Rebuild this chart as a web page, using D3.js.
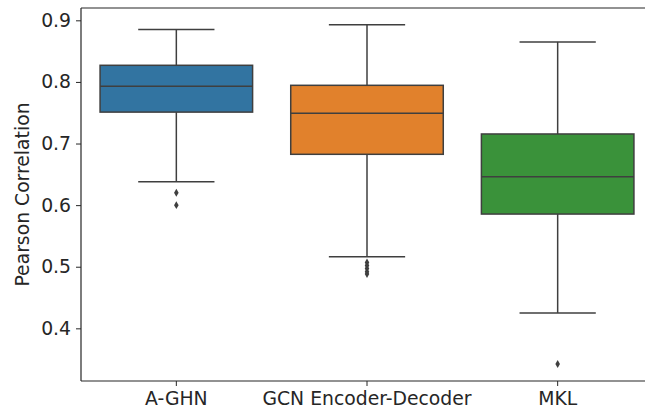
<!doctype html>
<html>
<head>
<script src="https://cdn.jsdelivr.net/npm/d3@7"></script>
<style>
  body { margin: 0; background: #fff; }
  text { font-family: "DejaVu Sans", sans-serif; fill: #262626; }
</style>
</head>
<body>
<svg id="chart" width="645" height="411"></svg>
<script>
// box stats
var categories = ["A-GHN", "GCN Encoder-Decoder", "MKL"];
var whiskerLow = [0.638, 0.516, 0.425];
var q1 = [0.751, 0.6825, 0.5855];
var median = [0.793, 0.749, 0.646];
var q3 = [0.827, 0.7945, 0.7155];
var whiskerHigh = [0.885, 0.893, 0.865];
var outliers = [[0.620, 0.600], [0.507, 0.502, 0.497, 0.492, 0.488], [0.342]];
var colors = ["#3274a1", "#e1812c", "#3a923a"];
var yTicks = [0.4, 0.5, 0.6, 0.7, 0.8, 0.9];

var svg = d3.select("#chart");
var plotLeft = 81, plotRight = 653, plotTop = 8, plotBottom = 381;
var edge = "#3f3f3f";
var fontSize = "18.8px";

var x = d3.scaleBand().domain(categories).range([plotLeft, plotRight]).padding(0);
var y = d3.scaleLinear().domain([0.3145, 0.92]).range([plotBottom, plotTop]);
var bw = x.bandwidth() * 0.8;

var boxes = categories.map(function(c, i) {
    return {name: c, lo: whiskerLow[i], q1: q1[i], med: median[i], q3: q3[i], hi: whiskerHigh[i],
            out: outliers[i], color: colors[i]};
});

// y axis
var yAxis = svg.append("g")
    .attr("transform", "translate(" + plotLeft + ",0)")
    .call(d3.axisLeft(y).tickValues(yTicks).tickFormat(d3.format(".1f")).tickSize(5).tickPadding(5));
yAxis.select(".domain").remove();
yAxis.selectAll("line").attr("stroke", "#262626").attr("stroke-width", 1);
yAxis.selectAll("text").style("font-size", fontSize).style("font-family", "DejaVu Sans").attr("fill", "#262626");

// x axis
var xAxis = svg.append("g")
    .attr("transform", "translate(0," + plotBottom + ")")
    .call(d3.axisBottom(x).tickSize(5).tickPadding(6));
xAxis.select(".domain").remove();
xAxis.selectAll("line").attr("stroke", "#262626").attr("stroke-width", 1);
xAxis.selectAll("text").style("font-size", fontSize).style("font-family", "DejaVu Sans").attr("fill", "#262626");

// spines
svg.append("line").attr("x1", plotLeft).attr("x2", plotLeft).attr("y1", plotTop).attr("y2", plotBottom)
    .attr("stroke", "#262626").attr("stroke-width", 1.2);
svg.append("line").attr("x1", plotLeft).attr("x2", plotRight).attr("y1", plotBottom).attr("y2", plotBottom)
    .attr("stroke", "#262626").attr("stroke-width", 1.2);
svg.append("line").attr("x1", plotLeft).attr("x2", plotRight).attr("y1", plotTop).attr("y2", plotTop)
    .attr("stroke", "#262626").attr("stroke-width", 1.2);

// y label
svg.append("text")
    .attr("transform", "translate(22," + ((plotTop + plotBottom) / 2) + ") rotate(-90)")
    .attr("text-anchor", "middle")
    .attr("dominant-baseline", "central")
    .style("font-size", fontSize)
    .text("Pearson Correlation");

var g = svg.selectAll(".box").data(boxes).enter().append("g").attr("class", "box");

function cx(d) { return x(d.name) + x.bandwidth() / 2; }

// whiskers
g.append("line")
    .attr("x1", cx).attr("x2", cx)
    .attr("y1", function(d) { return y(d.hi); }).attr("y2", function(d) { return y(d.q3); })
    .attr("stroke", edge).attr("stroke-width", 1.5);
g.append("line")
    .attr("x1", cx).attr("x2", cx)
    .attr("y1", function(d) { return y(d.q1); }).attr("y2", function(d) { return y(d.lo); })
    .attr("stroke", edge).attr("stroke-width", 1.5);
// caps
["hi", "lo"].forEach(function(k) {
    g.append("line")
        .attr("x1", function(d) { return cx(d) - bw / 4; })
        .attr("x2", function(d) { return cx(d) + bw / 4; })
        .attr("y1", function(d) { return y(d[k]); })
        .attr("y2", function(d) { return y(d[k]); })
        .attr("stroke", edge).attr("stroke-width", 1.5);
});

// boxes
g.append("rect")
    .attr("x", function(d) { return cx(d) - bw / 2; })
    .attr("width", bw)
    .attr("y", function(d) { return y(d.q3); })
    .attr("height", function(d) { return y(d.q1) - y(d.q3); })
    .attr("fill", function(d) { return d.color; })
    .attr("stroke", edge).attr("stroke-width", 1.5);

// medians
g.append("line")
    .attr("x1", function(d) { return cx(d) - bw / 2; })
    .attr("x2", function(d) { return cx(d) + bw / 2; })
    .attr("y1", function(d) { return y(d.med); })
    .attr("y2", function(d) { return y(d.med); })
    .attr("stroke", edge).attr("stroke-width", 1.5);

// outliers (diamonds)
var diamond = d3.symbol().type(d3.symbolDiamond).size(18);
g.each(function(d) {
    d3.select(this).selectAll("path.flier").data(d.out).enter().append("path")
        .attr("class", "flier")
        .attr("d", diamond)
        .attr("transform", function(v) { return "translate(" + cx(d) + "," + y(v) + ")"; })
        .attr("fill", edge);
});
</script>
</body>
</html>
